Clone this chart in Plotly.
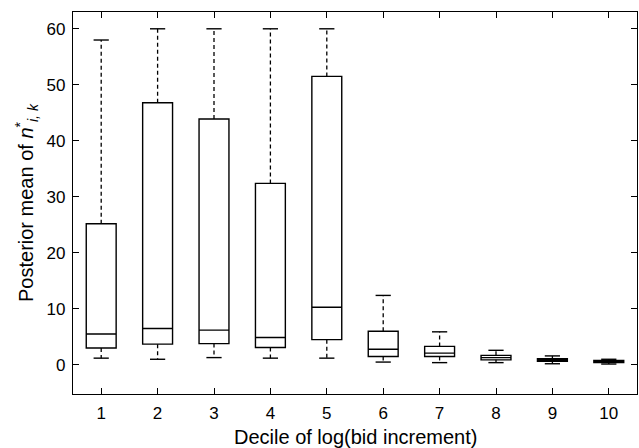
import plotly.graph_objects as go

deciles = [1, 2, 3, 4, 5, 6, 7, 8, 9, 10]
tick_labels = ["1", "2", "3", "4", "5", "6", "7", "8", "9", "10"]
upper = [58.0, 60.0, 60.0, 60.0, 60.0, 12.4, 5.9, 2.6, 1.6, 1.0]
q3 = [25.2, 46.8, 43.9, 32.4, 51.5, 6.0, 3.3, 1.7, 1.1, 0.8]
median = [5.5, 6.5, 6.2, 4.9, 10.3, 2.8, 2.1, 1.3, 0.9, 0.6]
q1 = [3.0, 3.7, 3.8, 3.1, 4.5, 1.5, 1.5, 0.9, 0.65, 0.4]
lower = [1.2, 1.0, 1.3, 1.2, 1.2, 0.5, 0.4, 0.4, 0.2, 0.15]
x_title = "Decile of log(bid increment)"
y_title = "Posterior mean of <i>n</i><sup>*</sup><sub><i>i, k</i></sub>"

BOX_W = 0.53
CAP_W = 0.27

fig = go.Figure()

# dashed whiskers
wx, wy = [], []
for x, a, b, c, d in zip(deciles, q3, upper, q1, lower):
    wx += [x, x, None, x, x, None]
    wy += [a, b, None, c, d, None]
fig.add_trace(go.Scatter(x=wx, y=wy, mode="lines",
                         line=dict(color="black", width=1.3, dash="4px,3px"),
                         hoverinfo="skip", showlegend=False))
# caps
cx, cy = [], []
for x, b, d in zip(deciles, upper, lower):
    cx += [x - CAP_W / 2, x + CAP_W / 2, None, x - CAP_W / 2, x + CAP_W / 2, None]
    cy += [b, b, None, d, d, None]
fig.add_trace(go.Scatter(x=cx, y=cy, mode="lines",
                         line=dict(color="black", width=1.4),
                         hoverinfo="skip", showlegend=False))

fig.add_trace(go.Box(x=deciles, q1=q1, median=median, q3=q3,
                     lowerfence=q1, upperfence=q3, width=BOX_W,
                     whiskerwidth=0, boxpoints=False,
                     fillcolor="white", line=dict(color="black", width=1.4),
                     showlegend=False))

FONT = "Liberation Sans, Arial, sans-serif"
axis_common = dict(showline=True, linecolor="black", linewidth=1.2, mirror="ticks",
                   ticks="inside", ticklen=6, tickwidth=1.2, tickcolor="black",
                   showgrid=False, zeroline=False, automargin=False,
                   ticklabelstandoff=3,
                   tickfont=dict(family=FONT, size=17, color="black"))

fig.update_layout(
    template="none",
    width=639, height=448,
    margin=dict(l=73, r=2, t=12, b=54),
    plot_bgcolor="white", paper_bgcolor="white",
    font=dict(family=FONT, color="black", size=17),
    showlegend=False,
    xaxis=dict(range=[0.5, 10.5], tickmode="array", tickvals=deciles, ticktext=tick_labels,
               **axis_common),
    yaxis=dict(range=[-5.2, 63.0], tickmode="array", tickvals=[0, 10, 20, 30, 40, 50, 60],
               **axis_common),
    annotations=[
        dict(text=x_title, xref="paper", yref="paper", x=0.5, y=0,
             xanchor="center", yanchor="middle", yshift=-43, showarrow=False,
             font=dict(family=FONT, size=20, color="black")),
        dict(text=y_title, xref="paper", yref="paper", x=0, y=0.5,
             xanchor="center", yanchor="middle", xshift=-47, textangle=-90,
             showarrow=False, font=dict(family=FONT, size=20, color="black")),
    ],
)

fig.write_html("out.html", config={"displayModeBar": False},
               post_script="document.body.style.margin='0';document.body.style.padding='0';")
